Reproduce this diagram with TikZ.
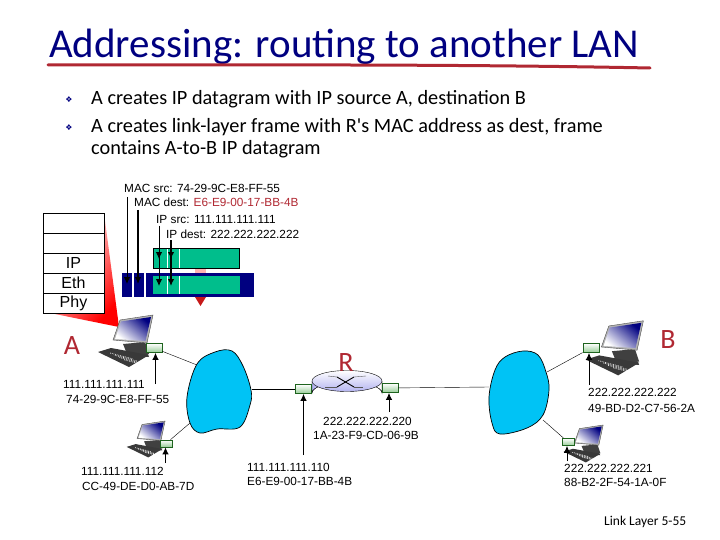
\documentclass[tikz,border=0pt]{standalone}
\usepackage{fontspec}
\setmainfont{Liberation Sans}
\newfontfamily\slidefont{Carlito}
\newfontfamily\symbolfont{DejaVu Sans}
\usepackage{tikz}
\usetikzlibrary{arrows.meta,positioning,calc}
\definecolor{Navy}{RGB}{0,0,128}
\definecolor{Brush}{RGB}{176,40,50}
\definecolor{Datagram}{RGB}{0,190,140}
\definecolor{Cloud}{RGB}{0,195,245}
\definecolor{CardEdge}{RGB}{30,100,30}
\definecolor{Lavender}{RGB}{180,180,240}
\tikzset{Computer/.pic={
	\fill [gray!50!black] (-3,12) -- (22,13) -- (24,17) -- (-3,16) -- cycle;
	\fill [black!75] (-2,4) -- (20,2) -- (24,14) -- (2,14) -- cycle;
	\draw [fill=gray!60, draw=gray!60!black] (-12,0) -- (-5,-20) -- (28,-25) -- (22,3) -- cycle;
	\shade [top color=Navy, middle color=Navy!22, bottom color=white, shading angle=-40] (-10,-1) -- (-4,-18.5) -- (26,-23) -- (20.5,1) -- cycle;
	\fill [gray!45!black] (-27,12) -- (-14,8) -- (24,15) -- (4,27) -- cycle;
	\foreach \i in {0.2,0.35,0.5,0.65}
		\draw [white, densely dotted, line width=0.7pt] ($(-27,12)!\i!(4,27)+(6,-2)$) -- ++(23,6);
}}
\begin{document}
\begin{tikzpicture}[x=1pt, y=-1pt]
	\tikzstyle{Layer}	= [draw, fill=white, rectangle, minimum width=61pt, minimum height=20pt, inner sep=0pt, font=\fontsize{16}{16}\selectfont]
	\tikzstyle{Card}	= [draw=CardEdge, rectangle, line width=0.8pt, top color=white, bottom color=green!35!gray!60, inner sep=0pt]
	\tikzstyle{BigCard}	= [Card, minimum width=16pt, minimum height=9pt]
	\tikzstyle{SmallCard}	= [Card, minimum width=12pt, minimum height=7pt]
	\tikzstyle{Addr}	= [anchor=west, inner sep=0pt, font=\fontsize{11.8}{12}\selectfont]
	\tikzstyle{Host}	= [inner sep=0pt, text=Brush, font=\slidefont\fontsize{28}{28}\selectfont]
	\tikzstyle{Bullet}	= [anchor=west, inner sep=0pt, font=\slidefont\fontsize{20.3}{24}\selectfont]
	\tikzstyle{Mark}	= [inner sep=0pt, text=Navy, font=\symbolfont\fontsize{8}{8}\selectfont]
	\tikzstyle{Link}	= [thin, black]
	\tikzstyle{Pointer}	= [-{Latex[length=7pt,width=6.5pt]}, black, line width=0.9pt]
	\tikzstyle{LAN}		= [draw, fill=Cloud, line width=0.7pt]
	\useasboundingbox (0,0) rectangle (720,540);

	\node (title) at (49,47) [anchor=west, inner sep=0pt, text=Navy, font=\slidefont\fontsize{41}{41}\selectfont] {Addressing: routing to another LAN};
	\draw [Brush, line width=3pt, line cap=round] (48,65) .. controls (250,65) and (450,64) .. (650,68);
	\node (m1) at (69,100) [Mark] {❖};
	\node (m2) at (69,128) [Mark] {❖};
	\node (b1) at (91,99) [Bullet] {A creates IP datagram with IP source A, destination B};
	\node (b2) at (91,127) [Bullet] {A creates link-layer frame with R's MAC address as dest, frame};
	\node (b3) at (91,149) [Bullet] {contains A-to-B IP datagram};

	\shade [top color=white, middle color=red!25, bottom color=red, shading angle=50] (104,213) -- (119,327) -- (50,313) -- cycle;
	\node (s1) at (73.5,223) [Layer] {};
	\node (s2) at (73.5,243) [Layer] {};
	\node (s3) at (73.5,263) [Layer] {IP};
	\node (s4) at (73.5,283) [Layer] {Eth};
	\node (s5) at (73.5,303) [Layer] {Phy};

	\fill [red!30] (195,268) rectangle (206,273);
	\fill [red!75!black!90] (195,297) -- (206,297) -- (200.5,306) -- cycle;
	\fill [Navy] (122,273) rectangle (132,297);
	\fill [Navy] (134,273) rectangle (144,297);
	\fill [Navy] (146,273) rectangle (254,297);
	\fill [Datagram] (153,276) rectangle (240,294);
	\draw [fill=Datagram, line width=0.6pt] (153.5,248.5) rectangle (239.5,268.5);
	\foreach \x in {167,179} {
		\draw [white, line width=1pt] (\x,249) -- (\x,268);
		\draw [white, line width=1pt] (\x,276) -- (\x,294);
	}

	\node (macsrc) at (124,188) [Addr] {MAC src: 74-29-9C-E8-FF-55};
	\node (macdest) at (134,202) [Addr] {MAC dest: \textcolor{Brush}{E6-E9-00-17-BB-4B}};
	\node (ipsrc) at (156,219) [Addr] {IP src: 111.111.111.111};
	\node (ipdest) at (166,234) [Addr] {IP dest: 222.222.222.222};
	\coordinate (p1) at (127,197);
	\coordinate (p1e) at (127,284);
	\coordinate (p2) at (138,210);
	\coordinate (p2e) at (138,284);
	\coordinate (p3) at (159,226);
	\coordinate (p3m) at (159,259);
	\coordinate (p3e) at (159,286);
	\coordinate (p4) at (171,240);
	\coordinate (p4m) at (171,259);
	\coordinate (p4e) at (171,286);
	\draw (p1) to (p1e) [Pointer];
	\draw (p2) to (p2e) [Pointer, line width=1.2pt];
	\draw (p3) to (p3m) [Pointer];
	\draw (p3) to (p3e) [Pointer];
	\draw (p4) to (p4m) [Pointer, line width=1.2pt];
	\draw (p4) to (p4e) [Pointer, line width=1.2pt];

	\pic at (125,340) {Computer};
	\pic [scale=1.05] at (614,347) {Computer};
	\pic [scale=0.7] at (145.5,438.5) {Computer};
	\pic [scale=0.72] at (583,443) {Computer};

	\fill [left color=Lavender, right color=white] (312,381) -- (312,393) arc [start angle=180, end angle=360, x radius=35, y radius=11] -- (382,381) -- cycle;
	\draw (312,381) -- (312,393) arc [start angle=180, end angle=360, x radius=35, y radius=11] -- (382,381);
	\draw [top color=white, bottom color=Lavender] (347,381) ellipse [x radius=35, y radius=10.5];
	\draw [line width=0.9pt] (337,377) -- (354,387);
	\draw [line width=0.9pt] (337,387) -- (354,377);
	\draw [gray!70!black] (325,387) -- (337,387);
	\draw [gray!70!black] (354,377) -- (366,376);
	\draw [gray!70!black] (328,376) -- (337,377);
	\draw [gray!70!black] (354,387) -- (363,387);

	\node (A) at (72,346) [Host] {A};
	\node (B) at (668,340) [Host] {B};
	\node (R) at (346,363) [Host] {R};

	\node (ca) at (154,348) [BigCard] {};
	\node (cc) at (166,443.5) [SmallCard] {};
	\node (cl) at (303.5,389) [BigCard] {};
	\node (cr) at (390,388) [BigCard] {};
	\node (cb) at (591,348) [BigCard] {};
	\node (cd) at (568,442) [SmallCard] {};

	\coordinate (l1a) at (197,365);
	\coordinate (l1c) at (190,423);
	\coordinate (l1r) at (252,389);
	\coordinate (l2l) at (489,387);
	\coordinate (l2b) at (547,372);
	\coordinate (l2d) at (543,420);
	\draw (ca) to (l1a) [Link];
	\draw (cc) to (l1c) [Link];
	\draw (l1r) to (cl) [Link];
	\draw (cr) to (l2l) [Link];
	\draw (l2b) to (cb) [Link];
	\draw (l2d) to (cd) [Link];

	\draw [LAN] plot [smooth cycle, tension=0.6] coordinates {(215,352) (232,351) (243,366) (251,390) (250,405) (240,427) (217,429) (200,433) (190,423) (187,397) (197,364)};
	\draw [LAN] plot [smooth cycle, tension=0.6] coordinates {(523,351) (538,355) (546,372) (549,390) (543,415) (527,428) (500,434) (492,423) (489,397) (495,370) (505,357)};

	\node (a1) at (63,384) [Addr] {111.111.111.111};
	\node (a2) at (66,399) [Addr] {74-29-9C-E8-FF-55};
	\node (c1) at (81,471) [Addr] {111.111.111.112};
	\node (c2) at (82,486) [Addr] {CC-49-DE-D0-AB-7D};
	\node (l1) at (247,467) [Addr] {111.111.111.110};
	\node (l2) at (247,481) [Addr] {E6-E9-00-17-BB-4B};
	\node (r1) at (323,421) [Addr] {222.222.222.220};
	\node (r2) at (313,435) [Addr] {1A-23-F9-CD-06-9B};
	\node (b1a) at (588,392) [Addr] {222.222.222.222};
	\node (b2a) at (588,408) [Addr] {49-BD-D2-C7-56-2A};
	\node (d1) at (564,468) [Addr] {222.222.222.221};
	\node (d2) at (564,482) [Addr] {88-B2-2F-54-1A-0F};

	\coordinate (qa) at (155.5,384);
	\coordinate (qc) at (165.5,463);
	\coordinate (ql) at (303.5,455);
	\coordinate (qr) at (389,412);
	\coordinate (qb) at (589,385);
	\coordinate (qd) at (567,461);
	\draw (qa) to (ca.south -| qa) [Pointer];
	\draw (qc) to (cc.south -| qc) [Pointer];
	\draw (ql) to (cl.south) [Pointer];
	\draw (qr) to (cr.south -| qr) [Pointer];
	\draw (qb) to (cb.south -| qb) [Pointer];
	\draw (qd) to (cd.south -| qd) [Pointer];

	\node (page) at (604,522) [anchor=west, inner sep=0pt, font=\slidefont\fontsize{13.5}{14}\selectfont] {Link Layer 5-55};
\end{tikzpicture}
\end{document}
